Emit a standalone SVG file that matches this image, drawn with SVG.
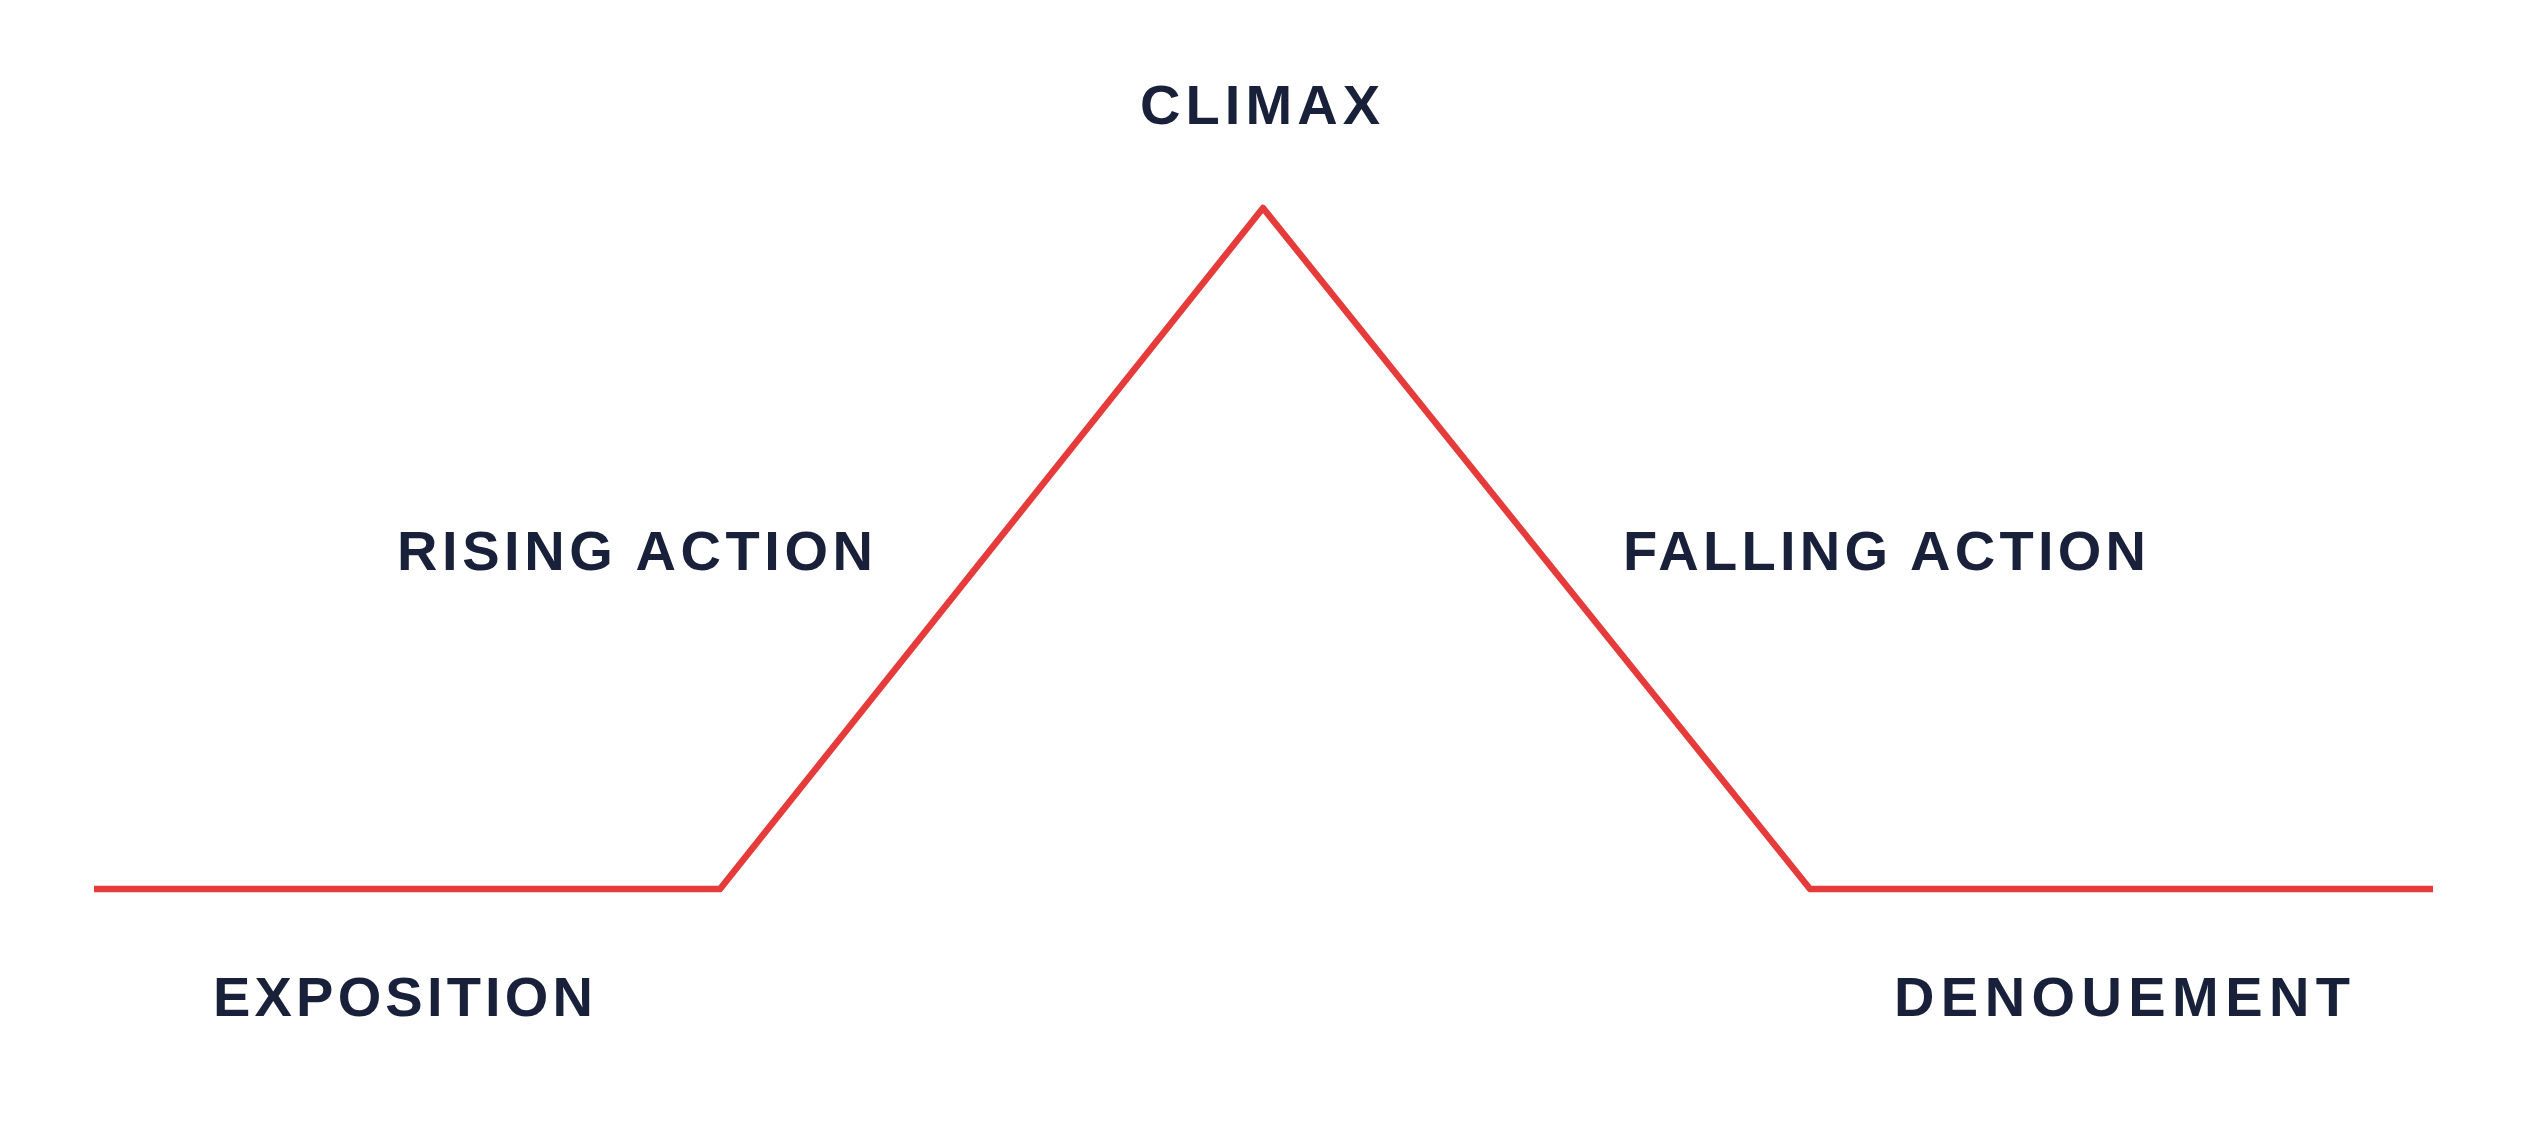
<svg xmlns="http://www.w3.org/2000/svg" width="2530" height="1121" viewBox="0 0 2530 1121">
<style>
text{font-family:"Liberation Sans",Arial,sans-serif;font-weight:bold;font-size:56px;fill:#18203a;letter-spacing:6px}
.c{fill:none;stroke:#e63b3b;stroke-width:6.5;stroke-linejoin:round}
</style>
<rect width="2530" height="1121" fill="#fff"/>
<g id="connectors"><polyline class="c" points="94,889 720,889 1263,208 1810,889 2433,889"/></g>
<g id="climax"><text x="1263" y="124" text-anchor="middle" textLength="246" lengthAdjust="spacing">CLIMAX</text></g>
<g id="rising"><text x="397" y="570" textLength="482" lengthAdjust="spacing">RISING ACTION</text></g>
<g id="falling"><text x="1623" y="570" textLength="529" lengthAdjust="spacing">FALLING ACTION</text></g>
<g id="exposition"><text x="213" y="1016" textLength="386" lengthAdjust="spacing">EXPOSITION</text></g>
<g id="denouement"><text x="1894" y="1016" textLength="462" lengthAdjust="spacing">DENOUEMENT</text></g>
</svg>
